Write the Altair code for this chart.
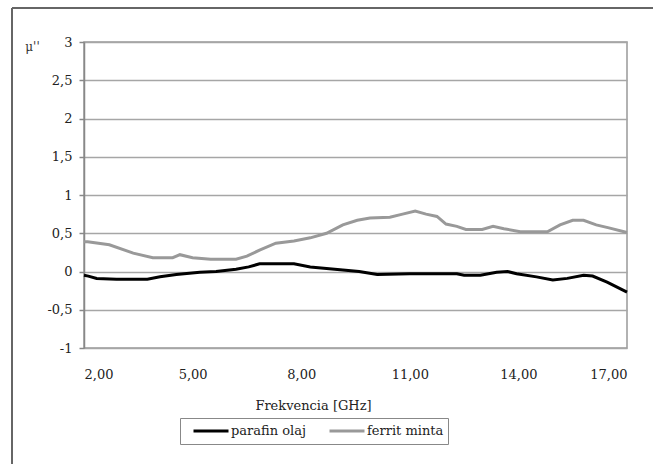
import altair as alt
import pandas as pd

ferrit_x = [2.0, 2.1, 2.7, 3.36, 3.9, 4.45, 4.65, 5.0, 5.5, 6.2, 6.5, 6.85, 7.3, 7.8, 8.25, 8.7,
            9.15, 9.55, 9.9, 10.45, 10.8, 11.15, 11.45, 11.75, 12.0, 12.3, 12.55, 13.0, 13.3,
            13.6, 14.05, 14.8, 15.15, 15.5, 15.8, 16.15, 16.5, 17.0]
ferrit_y = [0.39, 0.39, 0.35, 0.24, 0.18, 0.18, 0.22, 0.18, 0.16, 0.16, 0.20, 0.28, 0.37, 0.40,
            0.44, 0.50, 0.61, 0.67, 0.70, 0.71, 0.75, 0.79, 0.75, 0.72, 0.62, 0.59, 0.55, 0.55,
            0.59, 0.56, 0.52, 0.52, 0.61, 0.67, 0.67, 0.61, 0.57, 0.51]

parafin_x = [2.0, 2.12, 2.35, 2.9, 3.75, 4.1, 4.55, 5.2, 5.65, 6.2, 6.55, 6.85, 7.8, 8.25, 8.7,
             9.15, 9.6, 10.1, 11.0, 12.3, 12.5, 12.95, 13.4, 13.7, 13.95, 14.5, 14.95, 15.35,
             15.8, 16.05, 16.45, 17.0]
parafin_y = [-0.05, -0.06, -0.09, -0.10, -0.10, -0.07, -0.04, -0.01, 0.0, 0.03, 0.06, 0.10, 0.10,
             0.06, 0.04, 0.02, 0.0, -0.04, -0.03, -0.03, -0.05, -0.05, -0.01, 0.0, -0.03, -0.07,
             -0.11, -0.09, -0.05, -0.06, -0.14, -0.27]

series_names = ["parafin olaj", "ferrit minta"]
series_colors = ["#000000", "#999999"]
x_ticks = [2, 5, 8, 11, 14, 17]
y_ticks = [-1, -0.5, 0, 0.5, 1, 1.5, 2, 2.5, 3]

rows = []
for x, y in zip(parafin_x, parafin_y):
    rows.append({"f": x, "v": y, "s": series_names[0], "o": 0})
for x, y in zip(ferrit_x, ferrit_y):
    rows.append({"f": x, "v": y, "s": series_names[1], "o": 1})
df = pd.DataFrame(rows)

FONT = "DejaVu Serif"
FS = 13

lines = alt.Chart(df).mark_line(strokeWidth=3, interpolate="linear").encode(
    x=alt.X("f:Q", scale=alt.Scale(domain=[2, 17], nice=False, zero=False),
            axis=alt.Axis(values=x_ticks, title="Frekvencia [GHz]", grid=False, ticks=False,
                          labelExpr="replace(format(datum.value, '.2f'), '.', ',')",
                          labelPadding=20, domain=False,
                          titleX=229, titleY=57, titleAnchor="start",
                          titleAlign="center", titleBaseline="middle")),
    y=alt.Y("v:Q", scale=alt.Scale(domain=[-1, 3], nice=False),
            axis=alt.Axis(values=y_ticks, title="μ''", grid=True, gridColor="#a6a6a6",
                          gridWidth=1.5, tickSize=5, tickColor="#888", domainColor="#888",
                          domainWidth=1.5, tickWidth=1.5,
                          labelExpr="replace(toString(datum.value), '.', ',')",
                          labelPadding=7,
                          titleAngle=0, titleX=-52, titleY=4, titleFontSize=12,
                          titleColor="#333333", titleAlign="center",
                          titleBaseline="middle")),
    color=alt.Color("s:N", scale=alt.Scale(domain=series_names, range=series_colors),
                    legend=alt.Legend(title=None, orient="none", legendX=96, legendY=376,
                                      direction="horizontal", symbolType="stroke",
                                      symbolSize=1225, symbolStrokeWidth=3, clipHeight=18,
                                      strokeColor="#888", padding=4, columnPadding=14,
                                      labelOffset=1, symbolOffset=8)),
    order="o:O",
    detail="s:N",
)

border_df = pd.DataFrame({"k": [0]})
top_border = alt.Chart(border_df).mark_rule(color="#666", strokeWidth=2).encode(
    x=alt.value(-72), x2=alt.value(611), y=alt.value(-34))
left_border = alt.Chart(border_df).mark_rule(color="#666", strokeWidth=2).encode(
    x=alt.value(-72), y=alt.value(-34), y2=alt.value(430))

chart = alt.layer(lines, top_border, left_border).properties(
    width=543, height=306,
    autosize=alt.AutoSizeParams(type="none"),
    padding={"left": 84, "top": 42, "right": 26, "bottom": 116},
    background="white",
).configure(font=FONT).configure_view(stroke="#999", strokeWidth=1.5).configure_axis(
    labelFont=FONT, labelFontSize=FS, labelColor="#222", titleFont=FONT, titleFontSize=FS,
    titleFontWeight="normal", titleColor="#222"
).configure_legend(labelFont=FONT, labelFontSize=FS, labelColor="#222")

chart.save("out.html", embed_options={"renderer": "svg", "actions": False})
